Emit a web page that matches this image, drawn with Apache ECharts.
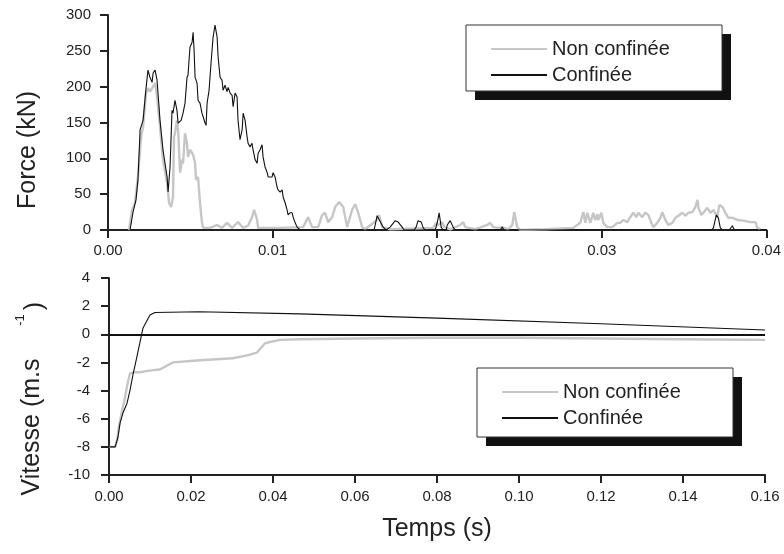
<!DOCTYPE html>
<html>
<head>
<meta charset="utf-8">
<script src="https://cdn.jsdelivr.net/npm/echarts@6/dist/echarts.min.js"></script>
<style>
  html, body { margin: 0; padding: 0; background: #fff; }
  #chart { width: 784px; height: 554px; }
</style>
</head>
<body>
<div id="chart"></div>
<script>
// Force (kN) vs temps (s), upper panel
const ncForceT = [0.00128, 0.00146, 0.00164, 0.00182, 0.00201, 0.00213, 0.00231, 0.00243, 0.00255, 0.00268,
  0.00274, 0.00286, 0.00298, 0.00316, 0.00334, 0.00359, 0.00371, 0.00383, 0.00395, 0.00401,
  0.00407, 0.00419, 0.00426, 0.00438, 0.0045, 0.00456, 0.00468, 0.0048, 0.00486, 0.00498,
  0.00517, 0.00529, 0.00535, 0.00547, 0.00559, 0.00571, 0.00578, 0.0062, 0.00663, 0.00693,
  0.00723, 0.00754, 0.0079, 0.00821, 0.00851, 0.00875, 0.00888, 0.00906, 0.00912, 0.01046,
  0.01185, 0.01216, 0.0124, 0.01277, 0.01301, 0.01319, 0.01337, 0.01362, 0.0138, 0.01404,
  0.01429, 0.01453, 0.01483, 0.01502, 0.0152, 0.01544, 0.01562, 0.01635, 0.01647, 0.01666,
  0.01714, 0.01976, 0.01994, 0.02006, 0.0203, 0.02043, 0.02079, 0.0214, 0.02158, 0.0217,
  0.02231, 0.02304, 0.02322, 0.0234, 0.02371, 0.02395, 0.02432, 0.02456, 0.02468, 0.02486,
  0.02505, 0.02657, 0.02827, 0.02869, 0.02888, 0.029, 0.02912, 0.0293, 0.02948, 0.0296,
  0.02973, 0.02979, 0.02997, 0.03009, 0.03033, 0.03064, 0.03094, 0.03112, 0.03131, 0.03155,
  0.03173, 0.03191, 0.0321, 0.03222, 0.03246, 0.03264, 0.03283, 0.03301, 0.03313, 0.03337,
  0.03356, 0.03368, 0.03386, 0.03404, 0.03429, 0.03447, 0.03465, 0.03489, 0.03508, 0.03526,
  0.0355, 0.03568, 0.03581, 0.03587, 0.03605, 0.03617, 0.03641, 0.0366, 0.03678, 0.03702,
  0.03714, 0.03733, 0.03751, 0.03769, 0.03793, 0.03824, 0.0386, 0.03903, 0.03933, 0.03945,
  0.03964];
const ncForceF = [0, 28, 38, 74, 130, 144, 191, 198, 193, 198,
  200, 205, 186, 144, 98, 66, 38, 32, 46, 130,
  135, 153, 140, 80, 98, 93, 135, 121, 102, 112,
  105, 93, 70, 74, 38, 10, 3, 3, 7, 3,
  10, 3, 11, 3, 6, 18, 28, 14, 3, 3,
  4, 18, 4, 4, 21, 24, 11, 18, 32, 39,
  32, 4, 28, 36, 24, 4, 1, 14, 21, 4,
  1, 3, 10, 7, 11, 4, 1, 7, 11, 4,
  1, 7, 10, 4, 3, 4, 1, 7, 25, 4,
  0, 1, 3, 10, 25, 10, 24, 10, 24, 14,
  22, 14, 24, 10, 4, 4, 10, 10, 14, 11,
  18, 24, 18, 24, 18, 24, 21, 10, 4, 10,
  17, 25, 14, 7, 10, 17, 20, 24, 20, 24,
  25, 32, 42, 31, 21, 24, 31, 24, 28, 18,
  35, 32, 24, 17, 17, 14, 13, 11, 11, 3,
  1];

const cfForceT = [0.00134, 0.00152, 0.0017, 0.00182, 0.00195, 0.00213, 0.00231, 0.00243, 0.00255, 0.00268,
  0.00274, 0.00286, 0.00298, 0.00316, 0.00334, 0.00359, 0.00365, 0.00377, 0.00389, 0.00395,
  0.00407, 0.00419, 0.00426, 0.00444, 0.00456, 0.00468, 0.0048, 0.00486, 0.00498, 0.00511,
  0.00517, 0.00523, 0.00529, 0.00541, 0.00547, 0.00559, 0.00571, 0.00578, 0.0059, 0.00596,
  0.00602, 0.00614, 0.00626, 0.00638, 0.0065, 0.00663, 0.00669, 0.00681, 0.00693, 0.00699,
  0.00711, 0.00723, 0.0073, 0.00742, 0.00754, 0.0076, 0.00772, 0.00784, 0.0079, 0.00802,
  0.00815, 0.00821, 0.00833, 0.00845, 0.00851, 0.00863, 0.00875, 0.00881, 0.00894, 0.00906,
  0.00912, 0.00924, 0.00936, 0.00942, 0.00954, 0.00967, 0.00973, 0.00985, 0.00997, 0.01003,
  0.01015, 0.01027, 0.01033, 0.01046, 0.01058, 0.01064, 0.01076, 0.01088, 0.01094, 0.01106,
  0.01119, 0.01125, 0.01137, 0.01149, 0.01167, 0.01617, 0.01635, 0.01647, 0.01672, 0.0169,
  0.01714, 0.01745, 0.01763, 0.01787, 0.01799, 0.0186, 0.01872, 0.01884, 0.01903, 0.01915,
  0.01927, 0.01988, 0.02, 0.02012, 0.02024, 0.02036, 0.02055, 0.02061, 0.02079, 0.02097,
  0.02109, 0.02383, 0.02395, 0.02407, 0.03666, 0.03678, 0.03696, 0.03708, 0.0372, 0.03733,
  0.03775, 0.03793, 0.03805, 0.04];
const cfForceF = [0, 25, 42, 70, 140, 153, 198, 223, 213, 206,
  219, 223, 209, 153, 112, 74, 53, 88, 167, 163,
  181, 167, 149, 153, 163, 177, 213, 216, 255, 262,
  276, 251, 213, 205, 181, 177, 163, 158, 149, 146,
  177, 195, 233, 268, 286, 269, 241, 213, 209, 195,
  202, 193, 199, 191, 188, 172, 191, 186, 153, 126,
  140, 163, 153, 130, 121, 116, 121, 112, 98, 93,
  107, 112, 119, 102, 88, 80, 74, 73, 74, 80,
  74, 60, 56, 53, 56, 46, 38, 28, 21, 24,
  24, 18, 10, 4, 0, 0, 20, 22, 4, 0,
  4, 13, 11, 4, 0, 0, 4, 13, 11, 3,
  0, 0, 10, 24, 4, 0, 0, 7, 13, 4,
  0, 0, 4, 0, 0, 3, 21, 17, 3, 0,
  0, 6, 0, 0];

// Vitesse (m.s-1) vs temps (s), lower panel
const ncVitT = [0, 0.0015, 0.002, 0.0024, 0.0032, 0.0037, 0.0044, 0.0051, 0.0059, 0.0076,
  0.0093, 0.0124, 0.0137, 0.0156, 0.0222, 0.0302, 0.0337, 0.0361, 0.038, 0.0393,
  0.0417, 0.0466, 0.06, 0.08, 0.1, 0.12, 0.14, 0.16];
const ncVitV = [-8, -8, -7.5, -6.6, -5.4, -4.8, -3.7, -2.8, -2.7, -2.7,
  -2.6, -2.5, -2.3, -2.0, -1.85, -1.7, -1.5, -1.3, -0.65, -0.55,
  -0.4, -0.35, -0.3, -0.25, -0.25, -0.3, -0.35, -0.4];

const cfVitT = [0, 0.0015, 0.0022, 0.0027, 0.0034, 0.0044, 0.0051, 0.0059, 0.0068, 0.0076,
  0.0083, 0.0093, 0.01, 0.0112, 0.022, 0.0466, 0.08, 0.12, 0.16];
const cfVitV = [-8, -8, -7.3, -6.3, -5.6, -4.9, -4.0, -2.8, -1.6, -0.5,
  0.45, 1.0, 1.37, 1.55, 1.6, 1.45, 1.15, 0.75, 0.3];

const forceTicks = { min: 0, max: 300, interval: 50 };
const vitTicks = { min: -10, max: 4, interval: 2 };

const zip = (xs, ys) => xs.map((x, i) => [x, ys[i]]);

const GRAY = "#c6c6c6";
const BLACK = "#111111";
const AXIS = "#222222";
const FONT = "Liberation Sans, Arial, sans-serif";

const axisCommon = {
  axisLine: { lineStyle: { color: AXIS, width: 2 } },
  axisTick: { show: true, inside: false, length: 8, lineStyle: { color: AXIS, width: 2 } },
  splitLine: { show: false },
  axisLabel: { color: AXIS, fontSize: 15, fontFamily: FONT }
};

const legendCommon = {
  orient: "vertical",
  icon: "rect",
  itemWidth: 56,
  itemHeight: 2,
  itemGap: 6,
  itemTextGap: 6,
  padding: [14, 48, 8, 25],
  z: 10,
  textStyle: { color: AXIS, fontSize: 20, fontFamily: FONT },
  data: ["Non confinée", "Confinée"]
};

// legend frame with its hard drop shadow
const legendFrame = (left, top, w, h) => [
  { type: "rect", z: 5, shape: { x: left + 9, y: top + 9, width: w, height: h }, style: { fill: "#111111" } },
  { type: "rect", z: 6, shape: { x: left, y: top, width: w, height: h }, style: { fill: "#ffffff", stroke: "#333333", lineWidth: 1 } }
];

const chart = echarts.init(document.getElementById("chart"), null, { renderer: "canvas" });

chart.setOption({
  animation: false,
  backgroundColor: "#ffffff",
  grid: [
    { left: 108, top: 15, width: 659, height: 215 },
    { left: 109, top: 278, width: 656, height: 197 }
  ],
  xAxis: [
    Object.assign({}, axisCommon, {
      type: "value", gridIndex: 0, min: 0, max: 0.04, interval: 0.01,
      axisLabel: Object.assign({}, axisCommon.axisLabel, { margin: 13, formatter: v => v.toFixed(2) })
    }),
    Object.assign({}, axisCommon, {
      type: "value", gridIndex: 1, min: 0, max: 0.16, interval: 0.02,
      axisLine: { onZero: false, lineStyle: { color: AXIS, width: 2 } },
      axisLabel: Object.assign({}, axisCommon.axisLabel, { margin: 14, formatter: v => v.toFixed(2) })
    })
  ],
  yAxis: [
    Object.assign({}, axisCommon, {
      type: "value", gridIndex: 0, min: forceTicks.min, max: forceTicks.max, interval: forceTicks.interval,
      axisLabel: Object.assign({}, axisCommon.axisLabel, { margin: 17 })
    }),
    Object.assign({}, axisCommon, {
      type: "value", gridIndex: 1, min: vitTicks.min, max: vitTicks.max, interval: vitTicks.interval,
      axisLabel: Object.assign({}, axisCommon.axisLabel, { margin: 19 })
    })
  ],
  legend: [
    Object.assign({}, legendCommon, { left: 466, top: 25 }),
    Object.assign({}, legendCommon, { left: 477, top: 368 })
  ],
  series: [
    {
      name: "Non confinée", type: "line", xAxisIndex: 0, yAxisIndex: 0,
      data: zip(ncForceT, ncForceF), showSymbol: false, symbol: "none",
      lineStyle: { color: GRAY, width: 2.4 }, itemStyle: { color: GRAY }, z: 2
    },
    {
      name: "Confinée", type: "line", xAxisIndex: 0, yAxisIndex: 0,
      data: zip(cfForceT, cfForceF), showSymbol: false, symbol: "none",
      lineStyle: { color: BLACK, width: 1.1 }, itemStyle: { color: BLACK }, z: 3
    },
    {
      name: "Non confinée", type: "line", xAxisIndex: 1, yAxisIndex: 1,
      data: zip(ncVitT, ncVitV), showSymbol: false, symbol: "none",
      lineStyle: { color: GRAY, width: 2.4 }, itemStyle: { color: GRAY }, z: 2,
      markLine: {
        silent: true, symbol: "none", label: { show: false },
        lineStyle: { color: BLACK, width: 2, type: "solid" },
        data: [{ yAxis: 0 }]
      }
    },
    {
      name: "Confinée", type: "line", xAxisIndex: 1, yAxisIndex: 1,
      data: zip(cfVitT, cfVitV), showSymbol: false, symbol: "none",
      lineStyle: { color: BLACK, width: 1.1 }, itemStyle: { color: BLACK }, z: 3
    }
  ],
  graphic: [
    ...legendFrame(466, 25, 256, 66),
    ...legendFrame(477, 368, 256, 69),
    {
      type: "text", x: 28, y: 150, rotation: Math.PI / 2,
      style: { text: "Force (kN)", fill: AXIS, font: "25px " + FONT, textAlign: "center", textVerticalAlign: "middle" }
    },
    {
      type: "text", x: 32, y: 427, rotation: Math.PI / 2,
      style: { text: "Vitesse (m.s", fill: AXIS, font: "25px " + FONT, textAlign: "center", textVerticalAlign: "middle" }
    },
    {
      type: "text", x: 20, y: 320, rotation: Math.PI / 2,
      style: { text: "-1", fill: AXIS, font: "13px " + FONT, textAlign: "center", textVerticalAlign: "middle" }
    },
    {
      type: "text", x: 35, y: 306, rotation: Math.PI / 2,
      style: { text: ")", fill: AXIS, font: "25px " + FONT, textAlign: "center", textVerticalAlign: "middle" }
    },
    {
      type: "text", x: 437, y: 529,
      style: { text: "Temps (s)", fill: AXIS, font: "25px " + FONT, textAlign: "center", textVerticalAlign: "middle" }
    }
  ]
});

window.addEventListener("resize", () => chart.resize());
</script>
</body>
</html>
